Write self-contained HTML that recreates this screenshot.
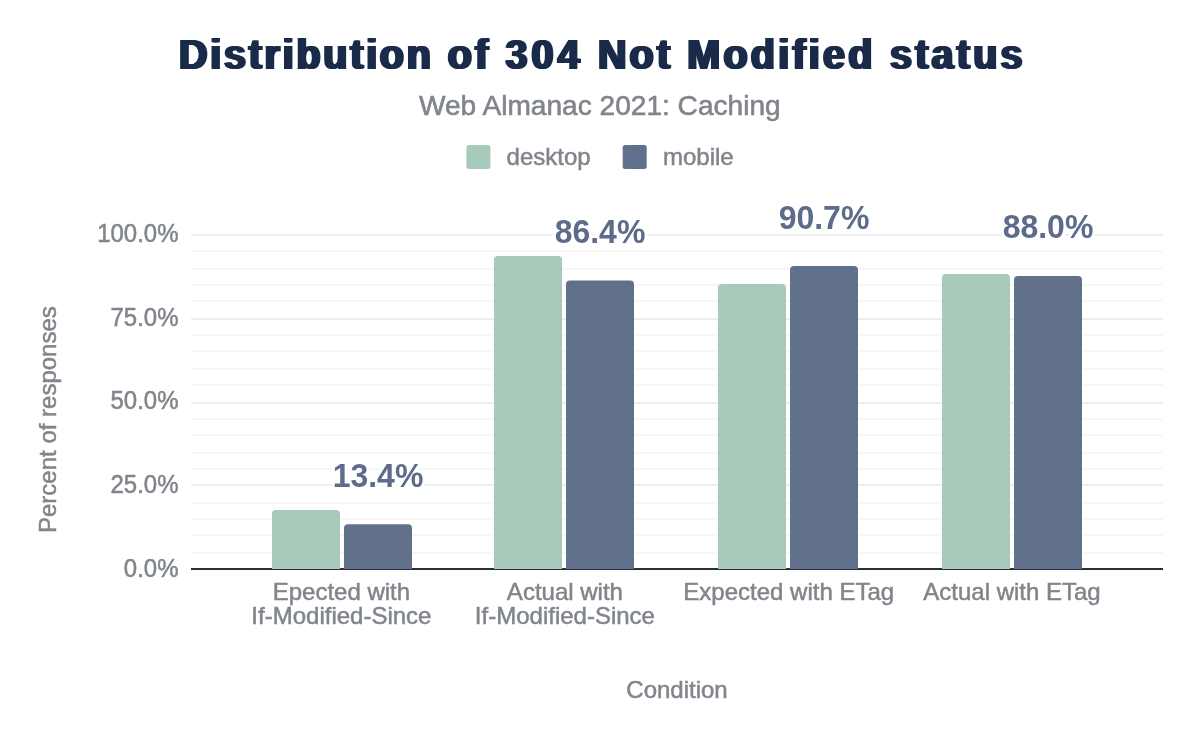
<!DOCTYPE html>
<html lang="en"><head><meta charset="utf-8"><title>Distribution of 304 Not Modified status</title>
<style>
html,body{margin:0;padding:0;background:#fff;}
svg{display:block;font-family:"Liberation Sans",Arial,sans-serif;}
.ax{font-size:24px;fill:#80858c;stroke:#80858c;stroke-width:0.5px;}
.sub{font-size:28.1px;fill:#80858c;stroke:#80858c;stroke-width:0.6px;}
.dl{font-size:32px;font-weight:bold;fill:#5d6c8b;stroke:#fff;stroke-width:6px;stroke-linejoin:round;paint-order:stroke fill;}
.wrap{position:relative;width:1200px;height:742px;overflow:hidden;}
.title{position:absolute;left:179px;top:15px;white-space:nowrap;font:bold 39.5px/80px "Liberation Sans",Arial,sans-serif;color:#1a2b49;letter-spacing:3.15px;text-shadow:1.5px 0 0 #1a2b49,-1.5px 0 0 #1a2b49;-webkit-text-stroke:0.2px #1a2b49;transform:scaleY(1.065);transform-origin:0 53.5px;}
</style></head><body><div class="wrap">
<svg width="1200" height="742" viewBox="0 0 1200 742">
<rect width="1200" height="742" fill="#fff"/>

<rect x="191" y="234" width="972" height="2" fill="#edeeef"/>
<rect x="191" y="250" width="972" height="2" fill="#f6f6f7"/>
<rect x="191" y="268" width="972" height="2" fill="#f6f6f7"/>
<rect x="191" y="284" width="972" height="2" fill="#f6f6f7"/>
<rect x="191" y="300" width="972" height="2" fill="#f6f6f7"/>
<rect x="191" y="318" width="972" height="2" fill="#edeeef"/>
<rect x="191" y="334" width="972" height="2" fill="#f6f6f7"/>
<rect x="191" y="350" width="972" height="2" fill="#f6f6f7"/>
<rect x="191" y="368" width="972" height="2" fill="#f6f6f7"/>
<rect x="191" y="384" width="972" height="2" fill="#f6f6f7"/>
<rect x="191" y="402" width="972" height="2" fill="#edeeef"/>
<rect x="191" y="418" width="972" height="2" fill="#f6f6f7"/>
<rect x="191" y="434" width="972" height="2" fill="#f6f6f7"/>
<rect x="191" y="452" width="972" height="2" fill="#f6f6f7"/>
<rect x="191" y="468" width="972" height="2" fill="#f6f6f7"/>
<rect x="191" y="484" width="972" height="2" fill="#edeeef"/>
<rect x="191" y="502" width="972" height="2" fill="#f6f6f7"/>
<rect x="191" y="518" width="972" height="2" fill="#f6f6f7"/>
<rect x="191" y="534" width="972" height="2" fill="#f6f6f7"/>
<rect x="191" y="552" width="972" height="2" fill="#f6f6f7"/>
<text class="ax" transform="translate(178.50,242.20) scale(1,1.045)" text-anchor="end">100.0%</text>
<text class="ax" transform="translate(178.50,325.80) scale(1,1.045)" text-anchor="end">75.0%</text>
<text class="ax" transform="translate(178.50,409.40) scale(1,1.045)" text-anchor="end">50.0%</text>
<text class="ax" transform="translate(178.50,493.00) scale(1,1.045)" text-anchor="end">25.0%</text>
<text class="ax" transform="translate(178.50,576.60) scale(1,1.045)" text-anchor="end">0.0%</text>
<rect x="191" y="568.0" width="972" height="2" fill="#2b2f3a"/>
<path d="M272,569.0V514.02a4,4 0 0 1 4,-4H336a4,4 0 0 1 4,4V569.0Z" fill="#a7cabb"/>
<path d="M344,569.0V528.24a4,4 0 0 1 4,-4H408a4,4 0 0 1 4,4V569.0Z" fill="#61708b"/>
<path d="M494,569.0V260.01a4,4 0 0 1 4,-4H558a4,4 0 0 1 4,4V569.0Z" fill="#a7cabb"/>
<path d="M566,569.0V284.42a4,4 0 0 1 4,-4H630a4,4 0 0 1 4,4V569.0Z" fill="#61708b"/>
<path d="M718,569.0V288.00a4,4 0 0 1 4,-4H782a4,4 0 0 1 4,4V569.0Z" fill="#a7cabb"/>
<path d="M790,569.0V270.06a4,4 0 0 1 4,-4H854a4,4 0 0 1 4,4V569.0Z" fill="#61708b"/>
<path d="M942,569.0V278.01a4,4 0 0 1 4,-4H1006a4,4 0 0 1 4,4V569.0Z" fill="#a7cabb"/>
<path d="M1014,569.0V280.08a4,4 0 0 1 4,-4H1078a4,4 0 0 1 4,4V569.0Z" fill="#61708b"/>
<text class="dl" transform="translate(378.00,486.84) scale(1,1.045)" text-anchor="middle">13.4%</text>
<text class="dl" transform="translate(600.00,243.02) scale(1,1.045)" text-anchor="middle">86.4%</text>
<text class="dl" transform="translate(824.00,228.66) scale(1,1.045)" text-anchor="middle">90.7%</text>
<text class="dl" transform="translate(1048.00,237.68) scale(1,1.045)" text-anchor="middle">88.0%</text>
<text class="ax" transform="translate(341.40,599.50)" text-anchor="middle">Epected with</text>
<text class="ax" transform="translate(341.40,623.80)" text-anchor="middle">If-Modified-Since</text>
<text class="ax" transform="translate(564.90,599.50)" text-anchor="middle">Actual with</text>
<text class="ax" transform="translate(564.90,623.80)" text-anchor="middle">If-Modified-Since</text>
<text class="ax" transform="translate(788.70,599.50)" text-anchor="middle">Expected with ETag</text>
<text class="ax" transform="translate(1012.00,599.50)" text-anchor="middle">Actual with ETag</text>
<text class="ax" transform="translate(677.00,698.00)" text-anchor="middle">Condition</text>
<text class="ax" transform="translate(55.50,419.60) rotate(-90)" text-anchor="middle">Percent of responses</text>
<rect x="466.4" y="145" width="24" height="24" rx="2.5" fill="#a7cabb"/>
<text class="ax" transform="translate(506.60,164.50)">desktop</text>
<rect x="622.7" y="145" width="24" height="24" rx="2.5" fill="#61708b"/>
<text class="ax" transform="translate(663.00,164.50)">mobile</text>
<text class="sub" transform="translate(599.80,114.70)" text-anchor="middle">Web Almanac 2021: Caching</text>
</svg>
<div class="title"><span style="letter-spacing:2.75px">Distribution</span> of <span style="letter-spacing:4.15px">304</span> Not <span style="letter-spacing:3.25px">Modified status</span></div>
</div></body></html>
